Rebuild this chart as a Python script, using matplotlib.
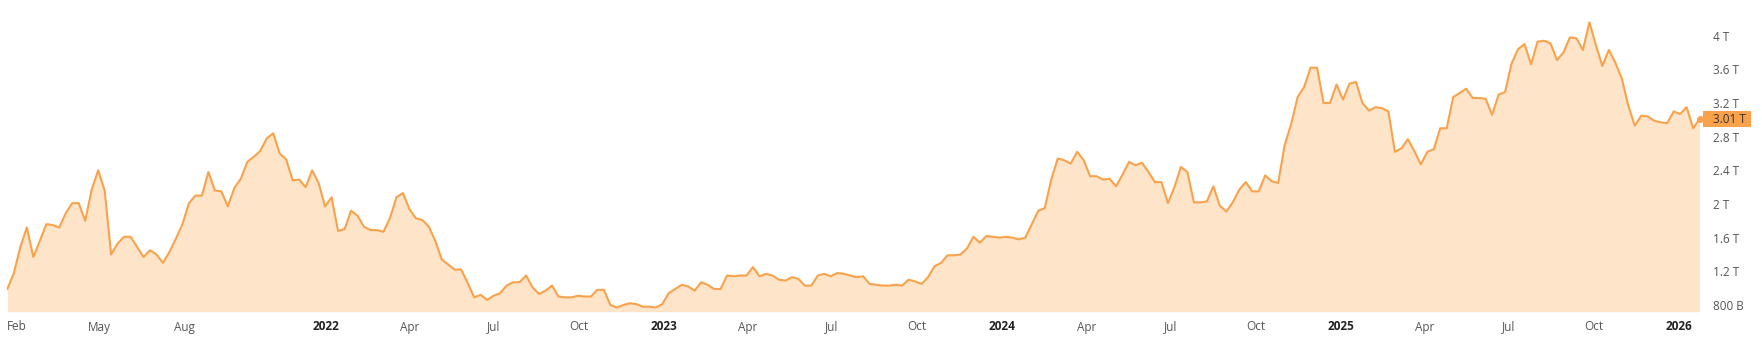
import matplotlib
matplotlib.use("Agg")
import matplotlib.pyplot as plt
import matplotlib.transforms as mtransforms
from matplotlib.patches import Rectangle
import pandas as pd

# weekly values, trillions
cap_2021 = [0.99, 1.18, 1.49, 1.72, 1.37, 1.56, 1.76, 1.75, 1.72, 1.89,
            2.01, 2.01, 1.80, 2.17, 2.40, 2.16, 1.40, 1.53, 1.61, 1.61,
            1.49, 1.37, 1.45, 1.40, 1.30, 1.43, 1.59, 1.76, 2.01, 2.10,
            2.10, 2.38, 2.16, 2.15, 1.97, 2.19, 2.30, 2.50, 2.56, 2.63,
            2.78, 2.84, 2.60, 2.53, 2.28, 2.29, 2.20, 2.40, 2.25, 1.97]
cap_2022 = [2.08, 1.68, 1.70, 1.92, 1.86, 1.73, 1.69, 1.69, 1.67, 1.83,
            2.08, 2.13, 1.94, 1.83, 1.81, 1.73, 1.56, 1.34, 1.28, 1.22,
            1.22, 1.06, 0.89, 0.92, 0.86, 0.91, 0.94, 1.03, 1.07, 1.07,
            1.15, 1.01, 0.93, 0.97, 1.03, 0.90, 0.89, 0.89, 0.91, 0.90,
            0.90, 0.98, 0.98, 0.80, 0.77, 0.80, 0.82, 0.81, 0.78, 0.78,
            0.77, 0.81]
cap_2023 = [0.94, 0.99, 1.04, 1.02, 0.97, 1.07, 1.04, 0.99, 0.99, 1.15,
            1.14, 1.15, 1.15, 1.25, 1.14, 1.17, 1.15, 1.10, 1.09, 1.13,
            1.11, 1.03, 1.03, 1.15, 1.17, 1.14, 1.18, 1.17, 1.15, 1.13,
            1.14, 1.05, 1.04, 1.03, 1.03, 1.04, 1.03, 1.10, 1.08, 1.05,
            1.13, 1.26, 1.30, 1.39, 1.39, 1.40, 1.47, 1.61, 1.54, 1.62,
            1.61, 1.60]
cap_2024 = [1.61, 1.60, 1.58, 1.60, 1.76, 1.92, 1.95, 2.29, 2.54, 2.52,
            2.48, 2.62, 2.52, 2.33, 2.33, 2.29, 2.30, 2.21, 2.35, 2.50,
            2.46, 2.49, 2.38, 2.26, 2.26, 2.01, 2.20, 2.44, 2.38, 2.02,
            2.02, 2.03, 2.21, 1.98, 1.91, 2.02, 2.17, 2.26, 2.15, 2.15,
            2.34, 2.27, 2.25, 2.70, 2.95, 3.27, 3.39, 3.62, 3.62, 3.20,
            3.20, 3.42]
cap_2025 = [3.24, 3.43, 3.45, 3.20, 3.11, 3.15, 3.14, 3.10, 2.62, 2.66,
            2.77, 2.63, 2.47, 2.62, 2.65, 2.90, 2.90, 3.27, 3.32, 3.37,
            3.26, 3.26, 3.25, 3.06, 3.30, 3.33, 3.67, 3.84, 3.90, 3.66,
            3.93, 3.94, 3.91, 3.71, 3.80, 3.98, 3.97, 3.83, 4.16, 3.89,
            3.64, 3.83, 3.68, 3.49, 3.17, 2.93, 3.05, 3.04, 2.99, 2.97,
            2.96, 3.10]
cap_2026 = [3.07, 3.15, 2.90, 3.01]

START = "2021-01-22"
END = "2026-01-23"

x_labels = ["Feb", "May", "Aug", "2022", "Apr", "Jul", "Oct", "2023", "Apr", "Jul", "Oct",
            "2024", "Apr", "Jul", "Oct", "2025", "Apr", "Jul", "Oct", "2026"]
x_label_dates = ["2021-02-01", "2021-05-01", "2021-08-01", "2022-01-01", "2022-04-01",
                 "2022-07-01", "2022-10-01", "2023-01-01", "2023-04-01", "2023-07-01",
                 "2023-10-01", "2024-01-01", "2024-04-01", "2024-07-01", "2024-10-01",
                 "2025-01-01", "2025-04-01", "2025-07-01", "2025-10-01", "2026-01-01"]
y_ticks = [0.8, 1.2, 1.6, 2.0, 2.4, 2.8, 3.2, 3.6, 4.0]
y_tick_labels = ["800 B", "1.2 T", "1.6 T", "2 T", "2.4 T", "2.8 T", "3.2 T", "3.6 T", "4 T"]
last_label = "3.01 T"

LINE = "#f9a24b"
FILL = "#fee4c8"
W, H = 1762, 352
Y_MIN, Y_MAX = 0.72, 4.365

plt.rcParams["font.family"] = ["Open Sans", "DejaVu Sans"]

values = cap_2021 + cap_2022 + cap_2023 + cap_2024 + cap_2025 + cap_2026
dates = pd.date_range(START, periods=len(values), freq="7D")
s = pd.Series(values, index=dates)

fig = plt.figure(figsize=(W / 100, H / 100), dpi=100)
left, right, top, bottom = 7.4, 1699.6, 5.0, 311.7
ax = fig.add_axes([left / W, 1 - bottom / H, (right - left) / W, (bottom - top) / H])

ax.fill_between(s.index, s.values, Y_MIN, color=FILL, linewidth=0)
ax.plot(s.index, s.values, color=LINE, linewidth=1.5, solid_joinstyle="round")
ax.plot(s.index[-1:], s.values[-1:], "o", color=LINE, markersize=4, clip_on=False)

ax.set_xlim(pd.Timestamp(START), pd.Timestamp(END))
ax.set_ylim(Y_MIN, Y_MAX)
for sp in ax.spines.values():
    sp.set_visible(False)

ax.set_xticks([])
ax.yaxis.tick_right()
ax.set_yticks(y_ticks)
ax.set_yticklabels(y_tick_labels)
ax.tick_params(axis="y", length=0, pad=9.8, labelsize=8.5, labelcolor="#555555")

xt = ax.get_xaxis_transform()
for lab, d in zip(x_labels, x_label_dates):
    is_year = lab.isdigit()
    ax.text(pd.Timestamp(d), -15.3 / (bottom - top), lab, transform=xt,
            ha="center", va="center", fontsize=8.5,
            fontweight="bold" if is_year else "normal",
            color="#222222" if is_year else "#555555")

# badge for last value
bt = mtransforms.blended_transform_factory(fig.transFigure, ax.transData)
px_per_val = (bottom - top) / (Y_MAX - Y_MIN)
box_h = 16.7 / px_per_val
ax.add_patch(Rectangle((1703 / W, values[-1] - box_h / 2), 47.7 / W, box_h,
                       transform=bt, color=LINE, clip_on=False, linewidth=0))
ax.text(1713.3 / W, values[-1], last_label, transform=bt, ha="left", va="center",
        fontsize=8.5, color="#333333")

fig.savefig("out.png", dpi=100)
